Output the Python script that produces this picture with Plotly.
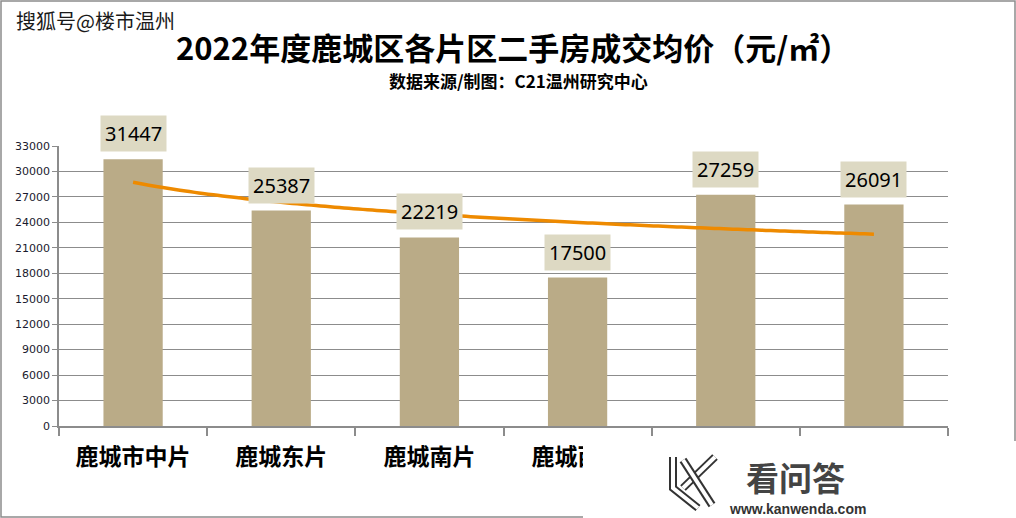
import numpy as np
import plotly.graph_objects as go

categories = ["鹿城市中片", "鹿城东片", "鹿城南片", "鹿城西片", "鹿城北片", "鹿城西南片"]
prices = [31447, 25387, 22219, 17500, 27259, 26091]
# the last two axis labels are hidden by the watermark in the source picture
tick_labels = ["鹿城市中片", "鹿城东片", "鹿城南片", "鹿城西片", "", ""]
y_ticks = list(range(0, 33001, 3000))
y_tick_text = [str(v) for v in y_ticks]

title = "2022年度鹿城区各片区二手房成交均价（元/㎡）"
subtitle = "数据来源/制图：C21温州研究中心"
source_mark = "搜狐号@楼市温州"

W, H = 1016, 518
L, R, T, B = 59, 948, 146, 426


def xp(px):
    return (px - L) / (R - L)


def yp(py):
    return (B - py) / (B - T)


x_idx = list(range(len(categories)))

# logarithmic trendline fitted to the data (y = a + b ln x)
ln_x = np.log(np.arange(1, len(prices) + 1))
b_coef, a_coef = np.polyfit(ln_x, np.array(prices, dtype=float), 1)
xs = np.linspace(1, len(prices), 80)
trend = a_coef + b_coef * np.log(xs)

fig = go.Figure()
fig.add_trace(go.Bar(
    x=x_idx, y=prices, width=0.4,
    marker=dict(color="#BAAB87", line=dict(width=0)),
    showlegend=False, hoverinfo="skip",
))
fig.add_trace(go.Scatter(
    x=xs - 1, y=trend, mode="lines",
    line=dict(color="#EE8A00", width=3.5, shape="spline"),
    showlegend=False, hoverinfo="skip",
))

annotations = []
for i, v in enumerate(prices):
    annotations.append(dict(
        x=i, y=v, xref="x", yref="y", text=str(v), showarrow=False,
        yanchor="bottom", yshift=7,
        font=dict(family="Noto Sans", size=20, color="#000000"),
        bgcolor="#DDD9C3", borderpad=4,
    ))

annotations += [
    dict(xref="paper", yref="paper", x=xp(513), y=yp(47), text=title,
         showarrow=False, xanchor="center", yanchor="middle", borderpad=0,
         font=dict(family="Noto Sans CJK SC", size=31, color="#000000", weight="bold")),
    dict(xref="paper", yref="paper", x=xp(518), y=yp(81), text=subtitle,
         showarrow=False, xanchor="center", yanchor="middle", borderpad=0,
         font=dict(family="Noto Sans CJK SC", size=17, color="#000000", weight="bold")),
    dict(xref="paper", yref="paper", x=xp(14), y=yp(20), text=source_mark,
         showarrow=False, xanchor="left", yanchor="middle",
         font=dict(family="Noto Sans CJK SC", size=20, color="#1a1a1a")),
]

shapes = [
    # outer frame
    dict(type="rect", xref="paper", yref="paper", layer="below",
         x0=xp(1), x1=xp(1015), y0=yp(517), y1=yp(1),
         line=dict(color="#8C8C8C", width=1.5), fillcolor="rgba(0,0,0,0)"),
    # watermark patch
    dict(type="rect", xref="paper", yref="paper", layer="above",
         x0=xp(583), x1=xp(1020), y0=yp(522), y1=yp(441),
         line=dict(width=0), fillcolor="#FFFFFF"),
]

# watermark logo (decorative)
logo_paths = [
    [(673, 457), (673, 488), (698, 508)],
    [(715, 457), (683, 488)],
    [(683, 460), (712, 505)],
]
for pts in logo_paths:
    d = "M " + " L ".join(f"{xp(a)},{yp(b)}" for a, b in pts)
    shapes.append(dict(type="path", xref="paper", yref="paper", layer="above", path=d,
                       line=dict(color="#333333", width=8)))
    shapes.append(dict(type="path", xref="paper", yref="paper", layer="above", path=d,
                       line=dict(color="#FFFFFF", width=4)))

annotations += [
    dict(xref="paper", yref="paper", x=xp(795), y=yp(477), text="看问答",
         showarrow=False, xanchor="center", yanchor="middle",
         font=dict(family="Noto Sans CJK SC", size=33, color="#444444", weight="bold")),
    dict(xref="paper", yref="paper", x=xp(797), y=yp(509), text="www.kanwenda.com",
         showarrow=False, xanchor="center", yanchor="middle",
         font=dict(family="Liberation Sans", size=14, color="#333333", weight="bold")),
]

fig.update_layout(
    width=W, height=H,
    margin=dict(l=L, r=W - R, t=T, b=H - B, pad=0),
    paper_bgcolor="#FFFFFF", plot_bgcolor="#FFFFFF",
    annotations=annotations, shapes=shapes,
    xaxis=dict(
        range=[-0.5, len(categories) - 0.5], tickmode="array",
        tickvals=x_idx, ticktext=tick_labels, ticks="", showgrid=False,
        zeroline=False, showline=True, linecolor="#8C8C8C", linewidth=1.5,
        tickfont=dict(family="Noto Sans CJK SC", size=23, color="#000000", weight="bold"),
        ticklabelstandoff=10,
        minor=dict(ticks="outside", tickmode="linear", tick0=-0.5, dtick=1,
                   ticklen=8, tickcolor="#8C8C8C", tickwidth=1.5, showgrid=False),
        fixedrange=True,
    ),
    yaxis=dict(
        range=[0, 33000], tickmode="array", tickvals=y_ticks, ticktext=y_tick_text,
        ticks="outside", ticklen=5, tickcolor="#8C8C8C", tickwidth=1,
        showgrid=True, gridcolor="#8C8C8C", gridwidth=1,
        zeroline=False, showline=True, linecolor="#8C8C8C", linewidth=1.5,
        tickfont=dict(family="DejaVu Sans", size=11, color="#1a1a2e"),
        fixedrange=True,
    ),
    bargap=0.6,
)

fig.write_html("out.html")
